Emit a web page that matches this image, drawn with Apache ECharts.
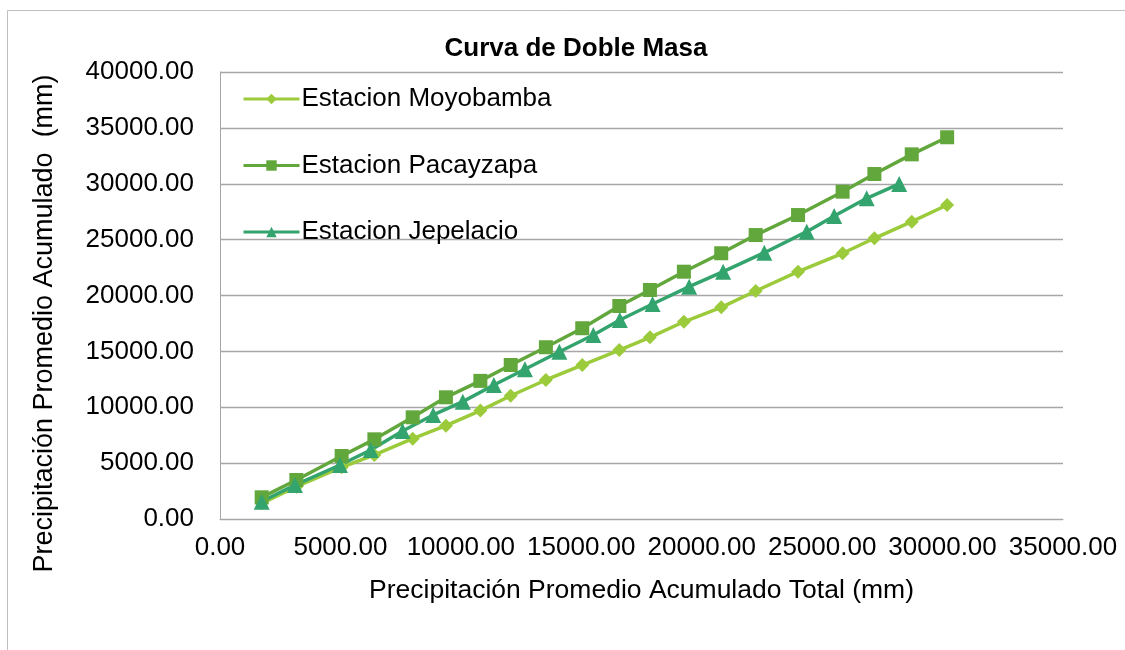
<!DOCTYPE html>
<html>
<head>
<meta charset="utf-8">
<script src="https://cdn.jsdelivr.net/npm/echarts@6/dist/echarts.min.js"></script>
<style>
  html, body { margin: 0; padding: 0; background: #fff; }
  #chart { width: 1125px; height: 650px; }
</style>
</head>
<body>
<div id="chart"></div>
<script>
// Precipitación promedio acumulado total (eje X)
var xTotal = [1730, 3170, 5050, 6410, 8000, 9380, 10810, 12070, 13530, 15040,
  16580, 17850, 19260, 20810, 22240, 24000, 25850, 27170, 28720, 30190];
var moyobamba = [1400, 2890, 4630, 5730, 7190, 8350, 9700, 11030, 12440, 13780,
  15120, 16260, 17650, 18940, 20400, 22130, 23780, 25120, 26610, 28100];
var pacayzapa = [1940, 3490, 5640, 7130, 9100, 10890, 12360, 13780, 15370, 17070,
  19060, 20490, 22130, 23780, 25410, 27200, 29290, 30870, 32630, 34160];
// Jepelacio tiene sus propios valores en X
var xJepelacio = [1730, 3110, 4980, 6260, 7580, 8850, 10080, 11370, 12660, 14090,
  15500, 16600, 17960, 19480, 20890, 22600, 24360, 25500, 26850, 28200];
var jepelacio = [1550, 3040, 4830, 6170, 7880, 9310, 10500, 11990, 13400, 14970,
  16470, 17810, 19240, 20790, 22130, 23830, 25710, 27110, 28700, 29980];
var xTicks = ["0.00", "5000.00", "10000.00", "15000.00", "20000.00", "25000.00", "30000.00", "35000.00"];

function pares(xs, ys) {
  return xs.map(function (x, i) { return [x, ys[i]]; });
}

var COLOR = {
  moyobamba: "#9BCB3B",
  pacayzapa: "#62A73B",
  jepelacio: "#34A46E",
  grid: "#a6a6a6",
  text: "#000"
};
var FONT = "Liberation Sans, Arial, sans-serif";

var charts = echarts.init(document.getElementById("chart"));
var option = {
  backgroundColor: "#fff",
  animation: false,
  //marco exterior
  graphic: [{
    type: "rect",
    shape: { x: 7.5, y: 10.5, width: 1130, height: 660 },
    style: { fill: "none", stroke: "#bfbfbf", lineWidth: 1 },
    silent: true
  }],
  title: {
    text: "Curva de Doble Masa",
    left: 571,
    top: 31,
    textAlign: "center",
    textStyle: { fontFamily: FONT, fontSize: 26, fontWeight: "bold", color: COLOR.text }
  },
  grid: {
    left: 220,
    top: 72,
    right: 62,
    bottom: 131
  },
  legend: {
    orient: "vertical",
    left: 237,
    top: 79,
    itemWidth: 56,
    itemHeight: 13,
    itemGap: 36.5,
    lineStyle: { width: 3 },
    data: ["Estacion Moyobamba", "Estacion Pacayzapa", "Estacion Jepelacio"],
    textStyle: { fontFamily: FONT, fontSize: 26, lineHeight: 30, color: COLOR.text, padding: [0, 0, 0, -3] }
  },
  xAxis: {
    type: "value",
    min: 0,
    max: 35000,
    interval: 5000,
    name: "Precipitación Promedio Acumulado Total (mm)",
    nameLocation: "middle",
    nameGap: 58,
    nameTextStyle: { fontFamily: FONT, fontSize: 26.5, color: COLOR.text },
    axisLine: { show: true, lineStyle: { color: COLOR.grid, width: 1 } },
    axisTick: { show: false },
    axisLabel: {
      margin: 16,
      fontFamily: FONT,
      fontSize: 26,
      color: COLOR.text,
      formatter: function (v) { return xTicks[Math.round(v / 5000)]; }
    },
    splitLine: { show: false }
  },
  yAxis: {
    type: "value",
    min: 0,
    max: 40000,
    interval: 5000,
    name: "Precipitación Promedio Acumulado  (mm)",
    nameLocation: "middle",
    nameGap: 162,
    nameTextStyle: { fontFamily: FONT, fontSize: 27, color: COLOR.text, padding: [0, 56, 0, 0] },
    axisLine: { show: true, lineStyle: { color: COLOR.grid, width: 1 } },
    axisTick: { show: false },
    axisLabel: {
      margin: 26,
      fontFamily: FONT,
      fontSize: 26,
      color: COLOR.text,
      formatter: function (v) { return v.toFixed(2); }
    },
    splitLine: { show: true, lineStyle: { color: COLOR.grid, width: 1.3 } }
  },
  series: [
    {
      name: "Estacion Moyobamba",
      type: "line",
      data: pares(xTotal, moyobamba),
      symbol: "diamond",
      symbolSize: 14,
      lineStyle: { color: COLOR.moyobamba, width: 3.5 },
      itemStyle: { color: COLOR.moyobamba }
    },
    {
      name: "Estacion Pacayzapa",
      type: "line",
      data: pares(xTotal, pacayzapa),
      symbol: "rect",
      symbolSize: 14,
      lineStyle: { color: COLOR.pacayzapa, width: 3.5 },
      itemStyle: { color: COLOR.pacayzapa }
    },
    {
      name: "Estacion Jepelacio",
      type: "line",
      data: pares(xJepelacio, jepelacio),
      symbol: "triangle",
      symbolSize: 16,
      lineStyle: { color: COLOR.jepelacio, width: 3.5 },
      itemStyle: { color: COLOR.jepelacio }
    }
  ]
};
charts.setOption(option);
window.addEventListener("resize", function () {
  charts.resize();
});
</script>
</body>
</html>
